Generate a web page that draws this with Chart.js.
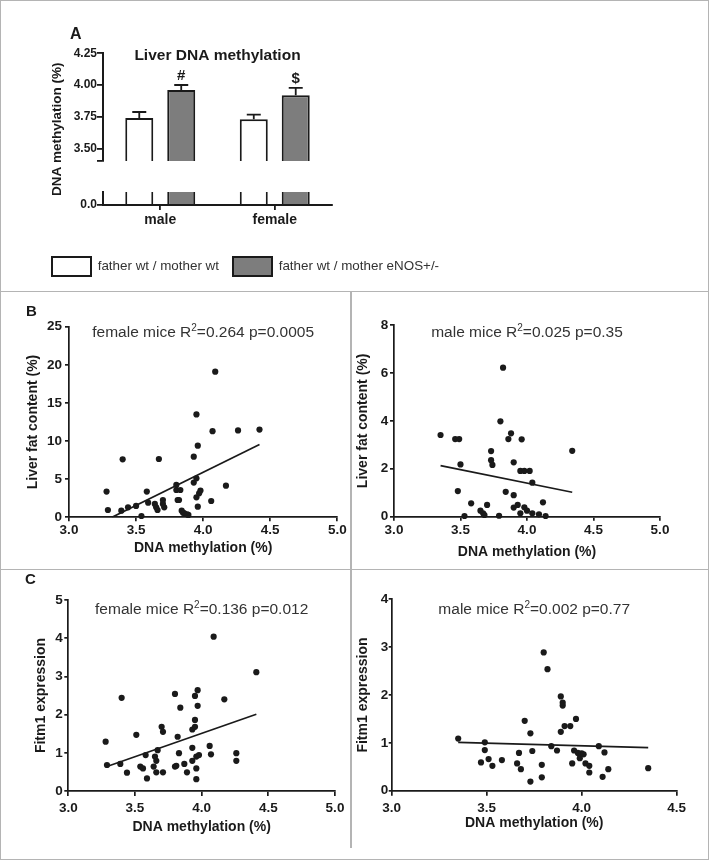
<!DOCTYPE html>
<html><head><meta charset="utf-8">
<script src="https://cdn.jsdelivr.net/npm/chart.js@4.4.1/dist/chart.umd.min.js"></script>
<style>
html,body{margin:0;padding:0;background:#fff;}
#fig{position:relative;width:710px;height:861px;overflow:hidden;font-family:'Liberation Sans',Arial,sans-serif;}
.rule{position:absolute;background:#b4b4b4;}
.pane{position:absolute;}
.letter{position:absolute;font-weight:bold;color:#1a1a1a;line-height:1;}
canvas{display:block;}
</style></head><body>
<div id="fig">
  <div style="position:absolute;left:0;top:0;width:709px;height:860px;border:1.5px solid #b4b4b4;box-sizing:border-box;"></div>
  <div class="rule" style="left:0;top:290.5px;width:709px;height:1.5px;"></div>
  <div class="rule" style="left:0;top:568.5px;width:709px;height:1.5px;"></div>
  <div class="rule" style="left:350px;top:291px;width:1.5px;height:557px;"></div>

  <div class="pane" style="left:2px;top:2px;"><canvas id="cA" width="705" height="288"></canvas></div>
  <div class="pane" style="left:2px;top:293px;"><canvas id="cB1" width="347" height="275"></canvas></div>
  <div class="pane" style="left:352px;top:293px;"><canvas id="cB2" width="355" height="275"></canvas></div>
  <div class="pane" style="left:2px;top:571px;"><canvas id="cC1" width="347" height="287"></canvas></div>
  <div class="pane" style="left:352px;top:571px;"><canvas id="cC2" width="355" height="287"></canvas></div>

  <div class="letter" style="left:70px;top:26px;font-size:16px;">A</div>
  <div class="letter" style="left:26px;top:303px;font-size:15px;">B</div>
  <div class="letter" style="left:25px;top:571px;font-size:15px;">C</div>
</div>
<script>
// ================= DATA =================
// Panel A: liver DNA methylation (bar + SEM)
const A_CATEGORIES = ['male', 'female'];
const A_SERIES = ['father wt / mother wt', 'father wt / mother eNOS+/-'];
const A_WT_MEAN = [3.74, 3.73];
const A_WT_SEM = [0.047, 0.037];
const A_ENOS_MEAN = [3.96, 3.92];
const A_ENOS_SEM = [0.04, 0.058];
const A_ENOS_MARKS = ['#', '$'];
const A_TITLE = 'Liver DNA methylation';
const A_Y_TITLE = 'DNA methylation (%)';
const A_Y_TICKS_UPPER = [3.50, 3.75, 4.00, 4.25];
const A_Y_RANGE_UPPER = [3.4, 4.25];
const A_Y_TICKS_LOWER = [0.0];
const A_Y_RANGE_LOWER = [0, 0.1];

// Panel B: liver fat content vs DNA methylation
const B_FEMALE_METH = [3.28,3.29,3.40,3.39,3.44,3.50,3.54,3.58,3.59,3.64,3.65,3.66,3.67,3.70,3.70,3.71,3.80,3.80,3.83,3.81,3.82,3.84,3.85,3.88,3.89,3.86,3.93,3.93,3.95,3.96,3.95,3.95,3.96,3.97,3.98,4.06,4.07,4.09,4.17,4.26,4.42];
const B_FEMALE_FAT  = [3.37,0.96,7.6,0.87,1.31,1.49,0.17,3.37,1.92,1.75,1.31,0.96,7.65,2.27,1.75,1.31,4.24,3.58,3.58,2.27,2.27,0.87,0.61,0.39,0.31,0.52,7.95,4.55,13.5,9.4,5.11,2.62,1.40,3.15,3.5,2.14,11.3,19.1,4.15,11.4,11.5];
const B_FEMALE_FIT_X = [3.32, 4.42];
const B_FEMALE_FIT_Y = [0, 9.55];
const B_MALE_METH = [3.35,3.46,3.49,3.50,3.48,3.58,3.53,3.65,3.67,3.68,3.70,3.73,3.73,3.74,3.79,3.80,3.82,3.84,3.86,3.88,3.90,3.90,3.90,3.93,3.95,3.96,3.95,3.98,3.98,4.00,4.02,4.04,4.04,4.09,4.12,4.14,4.34];
const B_MALE_FAT  = [3.41,3.24,3.24,2.18,1.07,0.56,0.03,0.25,0.14,0.07,0.49,2.74,2.36,2.16,0.04,3.98,6.22,1.04,3.24,3.48,0.90,0.38,2.27,0.49,0.14,3.23,1.91,1.91,0.39,0.25,1.91,1.42,0.14,0.10,0.60,0.03,2.75];
const B_MALE_FIT_X = [3.35, 4.34];
const B_MALE_FIT_Y = [2.13, 1.02];
const B_Y_TITLE = 'Liver fat content (%)';

// Panel C: Fitm1 expression vs DNA methylation
const C_FEMALE_METH = [3.28,3.29,3.39,3.40,3.44,3.51,3.54,3.56,3.58,3.59,3.64,3.65,3.66,3.66,3.67,3.70,3.71,3.71,3.80,3.80,3.81,3.82,3.83,3.84,3.87,3.89,3.93,3.93,3.93,3.95,3.95,3.95,3.96,3.96,3.97,3.97,3.96,3.98,4.06,4.07,4.09,4.17,4.26,4.26,4.41];
const C_FEMALE_FITM1 = [1.29,0.68,0.71,2.44,0.48,1.47,0.64,0.59,0.94,0.33,0.64,0.90,0.79,0.49,1.07,1.68,1.55,0.49,2.54,0.64,0.66,1.42,0.99,2.18,0.71,0.49,1.13,1.61,0.79,1.68,1.86,2.49,0.59,0.31,2.64,2.23,0.90,0.94,1.18,0.96,4.04,2.40,0.99,0.79,3.11];
const C_FEMALE_FIT_X = [3.29, 4.41];
const C_FEMALE_FIT_Y = [0.64, 2.01];
const C_MALE_METH = [3.35,3.47,3.49,3.49,3.51,3.53,3.58,3.66,3.67,3.68,3.70,3.73,3.73,3.74,3.79,3.79,3.80,3.82,3.84,3.87,3.89,3.89,3.90,3.90,3.91,3.94,3.95,3.96,3.97,3.98,3.99,4.00,4.01,4.02,4.04,4.04,4.09,4.11,4.12,4.14,4.35];
const C_MALE_FITM1 = [1.09,0.59,1.01,0.85,0.66,0.52,0.64,0.57,0.79,0.45,1.46,1.20,0.19,0.83,0.54,0.28,2.89,2.54,0.93,0.84,1.97,1.23,1.84,1.78,1.35,1.35,0.57,0.84,1.50,0.79,0.68,0.78,0.76,0.57,0.52,0.38,0.93,0.29,0.80,0.45,0.47];
const C_MALE_FIT_X = [3.35, 4.35];
const C_MALE_FIT_Y = [1.01, 0.90];
const C_Y_TITLE = 'Fitm1 expression';

const X_TITLE = 'DNA methylation (%)';
const ANNOT_B_FEMALE = ['female mice R', '2', '=0.264 p=0.0005'];
const ANNOT_B_MALE = ['male mice R', '2', '=0.025 p=0.35'];
const ANNOT_C_FEMALE = ['female mice R', '2', '=0.136 p=0.012'];
const ANNOT_C_MALE = ['male mice R', '2', '=0.002 p=0.77'];

// ================= STYLE =================
const INK = '#1a1a1a';
const GRAY_BAR = '#7d7d7d';
const FONT = "'Liberation Sans', Arial, Helvetica, sans-serif";
Chart.defaults.font.family = FONT;
Chart.defaults.color = INK;
Chart.defaults.animation = false;

// ================= PANEL A =================
const A_SEMS = [A_WT_SEM, A_ENOS_SEM];
const A_MARKS = [null, A_ENOS_MARKS];

const breakBarPlugin = {
  id: 'breakBars',
  afterDatasetsDraw(chart) {
    const {ctx, scales} = chart;
    const up = scales.yTop;
    ctx.save();
    ctx.strokeStyle = INK;
    ctx.lineWidth = 1.8;
    ctx.fillStyle = INK;
    ctx.font = 'bold 15px ' + FONT;
    ctx.textAlign = 'center';
    ctx.textBaseline = 'alphabetic';
    [0, 1].forEach(di => {
      const ds = chart.data.datasets[di];
      const meta = chart.getDatasetMeta(di);
      meta.data.forEach((bar, i) => {
        const v = ds.data[i];
        const yv = up.getPixelForValue(v);
        const ye = up.getPixelForValue(v + A_SEMS[di][i]);
        const half = bar.width / 4;
        ctx.beginPath();
        ctx.moveTo(bar.x, yv); ctx.lineTo(bar.x, ye);
        ctx.moveTo(bar.x - half, ye); ctx.lineTo(bar.x + half, ye);
        ctx.stroke();
        if (A_MARKS[di] && A_MARKS[di][i]) ctx.fillText(A_MARKS[di][i], bar.x, ye - 5);
      });
    });
    ctx.restore();
  },
  afterDraw(chart) {
    const {ctx, chartArea, scales} = chart;
    ctx.save();
    ctx.fillStyle = INK;
    ctx.font = 'bold 15.5px ' + FONT;
    ctx.textAlign = 'center';
    ctx.textBaseline = 'middle';
    ctx.fillText(A_TITLE, (chartArea.left + chartArea.right) / 2, chartArea.top + 2);
    const cy = (scales.yTop.top + scales.yBot.bottom) / 2;
    ctx.translate(chartArea.left - 46, cy);
    ctx.rotate(-Math.PI / 2);
    ctx.font = 'bold 13.5px ' + FONT;
    ctx.fillText(A_Y_TITLE, 0, 0);
    ctx.restore();
  }
};

const barStyle = [
  { backgroundColor: '#ffffff', borderColor: INK, borderWidth: 2, borderSkipped: 'start', stack: 'wt' },
  { backgroundColor: GRAY_BAR, borderColor: INK, borderWidth: 2, borderSkipped: 'start', stack: 'enos' }
];

new Chart(document.getElementById('cA'), {
  type: 'bar',
  data: {
    labels: A_CATEGORIES,
    datasets: [
      // upper part of the broken axis
      { label: A_SERIES[0], data: A_WT_MEAN, yAxisID: 'yTop', ...barStyle[0] },
      { label: A_SERIES[1], data: A_ENOS_MEAN, yAxisID: 'yTop', ...barStyle[1] },
      // lower part of the broken axis (same bars, seen through the lower segment)
      { label: A_SERIES[0], data: A_WT_MEAN, yAxisID: 'yBot', ...barStyle[0] },
      { label: A_SERIES[1], data: A_ENOS_MEAN, yAxisID: 'yBot', ...barStyle[1] }
    ]
  },
  options: {
    responsive: false, animation: false, events: [],
    categoryPercentage: 0.733, barPercentage: 0.667,
    layout: { padding: { top: 51.3, right: 0, bottom: 4, left: 36 } },
    plugins: {
      tooltip: { enabled: false },
      legend: {
        position: 'bottom', align: 'start',
        labels: { boxWidth: 39, boxHeight: 19, padding: 14, color: '#333', font: { size: 13.4 },
                  filter: item => item.datasetIndex < 2 }
      }
    },
    scales: {
      x: {
        position: 'bottom',
        grid: { offset: false, drawOnChartArea: false, tickLength: 5, color: INK, lineWidth: 1.8 },
        border: { color: INK, width: 2 },
        ticks: { font: { size: 14, weight: 'bold' }, color: INK, padding: 1.6, maxRotation: 0 },
        afterFit: s => { s.height = 38; }
      },
      yTop: {
        type: 'linear', position: 'left', stack: 'A', stackWeight: 108, weight: 3,
        min: A_Y_RANGE_UPPER[0], max: A_Y_RANGE_UPPER[1],
        afterBuildTicks: s => { s.ticks = [A_Y_RANGE_UPPER[0], ...A_Y_TICKS_UPPER].map(v => ({ value: v })); },
        ticks: { font: { size: 12, weight: 'bold' }, color: INK, padding: 0,
                 callback: v => A_Y_TICKS_UPPER.includes(v) ? v.toFixed(2) : '' },
        grid: { drawOnChartArea: false, tickLength: 6, color: INK, lineWidth: 1.8 },
        border: { color: INK, width: 2 },
        afterFit: s => { s.width = 65; }
      },
      yGap: {
        type: 'linear', position: 'left', stack: 'A', stackWeight: 31, weight: 2,
        grid: { display: false }, border: { display: false }, ticks: { display: false },
        afterFit: s => { s.width = 65; }
      },
      yBot: {
        type: 'linear', position: 'left', stack: 'A', stackWeight: 13, weight: 1,
        min: A_Y_RANGE_LOWER[0], max: A_Y_RANGE_LOWER[1],
        afterBuildTicks: s => { s.ticks = [...A_Y_TICKS_LOWER, A_Y_RANGE_LOWER[1]].map(v => ({ value: v })); },
        ticks: { font: { size: 12, weight: 'bold' }, color: INK, padding: 0,
                 callback: v => A_Y_TICKS_LOWER.includes(v) ? v.toFixed(1) : '' },
        grid: { drawOnChartArea: false, tickLength: 6, color: INK, lineWidth: 1.8 },
        border: { color: INK, width: 2 },
        afterFit: s => { s.width = 65; }
      },
      yPad: {
        type: 'linear', position: 'right', display: true,
        grid: { display: false }, border: { display: false }, ticks: { display: false },
        afterFit: s => { s.width = 375; }
      }
    }
  },
  plugins: [breakBarPlugin]
});

// ================= PANELS B & C =================
const annotPlugin = {
  id: 'annot',
  afterDraw(chart, args, opts) {
    const {ctx, chartArea} = chart;
    const [pre, sup, post] = opts.text;
    ctx.save();
    ctx.fillStyle = '#333333';
    ctx.textAlign = 'left';
    ctx.textBaseline = 'alphabetic';
    const mainFont = '15.5px ' + FONT, supFont = '10px ' + FONT;
    ctx.font = mainFont;
    const w1 = ctx.measureText(pre).width, w3 = ctx.measureText(post).width;
    ctx.font = supFont;
    const w2 = ctx.measureText(sup).width;
    let x = (chartArea.left + chartArea.right) / 2 - (w1 + w2 + w3) / 2;
    const y = chartArea.top + opts.dy;
    ctx.font = mainFont; ctx.fillText(pre, x, y); x += w1;
    ctx.font = supFont; ctx.fillText(sup, x, y - 6.5); x += w2;
    ctx.font = mainFont; ctx.fillText(post, x, y);
    ctx.restore();
  }
};

function makeScatter(id, d, L) {
  const pts = d.x.map((v, i) => ({ x: v, y: d.y[i] }));
  const fit = d.fitX.map((v, i) => ({ x: v, y: d.fitY[i] }));
  return new Chart(document.getElementById(id), {
    type: 'scatter',
    data: {
      datasets: [
        { label: 'linear fit', data: fit, showLine: true, borderColor: INK, borderWidth: 1.7,
          pointRadius: 0, pointHoverRadius: 0, fill: false },
        { label: 'mice', data: pts, pointRadius: 3.1, pointHoverRadius: 3.1,
          backgroundColor: INK, borderColor: INK, borderWidth: 0, clip: false }
      ]
    },
    options: {
      responsive: false, animation: false, events: [],
      layout: { padding: { top: L.top, right: L.right, bottom: 0, left: 0 } },
      plugins: { legend: { display: false }, tooltip: { enabled: false }, annot: { text: d.annot, dy: L.annotDy } },
      scales: {
        x: {
          type: 'linear', min: 3.0, max: d.xMax,
          ticks: { stepSize: 0.5, callback: v => Number(v).toFixed(1), font: { size: 13.5, weight: 'bold' },
                   color: INK, padding: L.xTickPad, maxRotation: 0, autoSkip: false },
          grid: { drawOnChartArea: false, tickLength: L.xTickLen, color: INK, lineWidth: 1.7 },
          border: { color: INK, width: 1.7 },
          title: { display: true, text: X_TITLE, color: INK, font: { size: 14, weight: 'bold' },
                   padding: { top: 0, bottom: L.xTitlePad } },
          afterFit: s => { s.height = L.xH; }
        },
        y: {
          type: 'linear', min: 0, max: d.yMax,
          ticks: { stepSize: d.yStep, font: { size: 13.5, weight: 'bold' }, color: INK, padding: L.yTickPad },
          grid: { drawOnChartArea: false, tickLength: L.yTickLen, color: INK, lineWidth: 1.7 },
          border: { color: INK, width: 1.7 },
          title: { display: true, text: d.yTitle, color: INK, font: { size: 14, weight: 'bold' },
                   padding: { top: L.yTitlePad, bottom: 0 } },
          afterFit: s => { s.width = L.yW; }
        }
      }
    },
    plugins: [annotPlugin]
  });
}

makeScatter('cB1',
  { x: B_FEMALE_METH, y: B_FEMALE_FAT, fitX: B_FEMALE_FIT_X, fitY: B_FEMALE_FIT_Y, xMax: 5.0, yMax: 25, yStep: 5, yTitle: B_Y_TITLE, annot: ANNOT_B_FEMALE },
  { top: 33.7, right: 11.7, yW: 67, xH: 50.7, yTitlePad: 22.6, yTickPad: 3, yTickLen: 4, xTickPad: 0.6, xTickLen: 4, xTitlePad: 11.3, annotDy: 10.6 });
makeScatter('cB2',
  { x: B_MALE_METH, y: B_MALE_FAT, fitX: B_MALE_FIT_X, fitY: B_MALE_FIT_Y, xMax: 5.0, yMax: 8, yStep: 2, yTitle: B_Y_TITLE, annot: ANNOT_B_MALE },
  { top: 32, right: 47, yW: 42, xH: 51.3, yTitlePad: 2.6, yTickPad: 1.7, yTickLen: 4, xTickPad: 1.2, xTickLen: 4, xTitlePad: 7.9, annotDy: 12.3 });
makeScatter('cC1',
  { x: C_FEMALE_METH, y: C_FEMALE_FITM1, fitX: C_FEMALE_FIT_X, fitY: C_FEMALE_FIT_Y, xMax: 5.0, yMax: 5, yStep: 1, yTitle: C_Y_TITLE, annot: ANNOT_C_FEMALE },
  { top: 29, right: 14, yW: 66.3, xH: 67, yTitlePad: 30.3, yTickPad: 1.6, yTickLen: 4, xTickPad: 4.2, xTickLen: 5, xTitlePad: 22.9, annotDy: 14 });
makeScatter('cC2',
  { x: C_MALE_METH, y: C_MALE_FITM1, fitX: C_MALE_FIT_X, fitY: C_MALE_FIT_Y, xMax: 4.5, yMax: 4, yStep: 1, yTitle: C_Y_TITLE, annot: ANNOT_C_MALE },
  { top: 28.3, right: 30.3, yW: 39.7, xH: 67.3, yTitlePad: 2.9, yTickPad: 0.4, yTickLen: 3, xTickPad: 4.5, xTickLen: 5, xTitlePad: 26.6, annotDy: 14.7 });
</script>
</body></html>
